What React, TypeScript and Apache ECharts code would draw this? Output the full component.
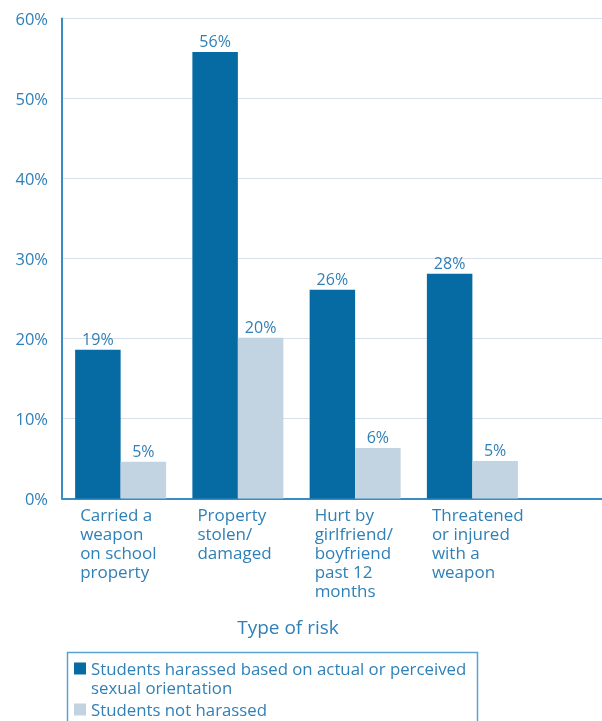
import React, { useEffect, useRef } from "react";
import * as echarts from "echarts";

const categories = [
  "Carried a\nweapon\non school\nproperty",
  "Property\nstolen/\ndamaged",
  "Hurt by\ngirlfriend/\nboyfriend\npast 12\nmonths",
  "Threatened\nor injured\nwith a\nweapon",
];
const harassed = [18.6, 55.8, 26.1, 28.1];
const notHarassed = [4.6, 20.1, 6.3, 4.7];
const seriesNames = [
  "Students harassed based on actual or perceived\nsexual orientation",
  "Students not harassed",
];
const yMin = 0;
const yMax = 60;
const yStep = 10;
const xTitle = "Type of risk";

const FONT = "'Open Sans', 'Noto Sans', sans-serif";
const TEXT = "#2f80b7";
const AXIS = "#3a8cc2";
const GRID = "#d7e0ea";
const DARK = "#066ba3";
const LIGHT = "#c2d3e1";

export default function App() {
  const ref = useRef<HTMLDivElement>(null);
  useEffect(() => {
    if (!ref.current) return;
    const chart = echarts.init(ref.current, undefined, { renderer: "svg" });
    const top = 18.5;
    const bottom = 222.5;
    chart.setOption({
      animation: false,
      textStyle: { fontFamily: FONT },
      grid: [
        { left: 62, right: 71, top, bottom },
        { left: 531, right: 0, top, bottom },
      ],
      xAxis: [
        {
          type: "category",
          gridIndex: 0,
          data: categories,
          axisLine: { show: true, lineStyle: { color: AXIS, width: 2 } },
          axisTick: { show: false },
          axisLabel: {
            interval: 0,
            align: "center",
            margin: 6,
            formatter: (v: string) =>
              v
                .split("\n")
                .map((l) => `{a|${l}}`)
                .join("\n"),
            rich: {
              a: {
                width: 81,
                align: "left",
                fontSize: 17,
                lineHeight: 19,
                color: TEXT,
                fontFamily: FONT,
              },
            },
          },
        },
        {
          type: "category",
          gridIndex: 1,
          data: [""],
          axisLine: { show: true, lineStyle: { color: AXIS, width: 2 } },
          axisTick: { show: false },
          axisLabel: { show: false },
        },
      ],
      yAxis: [
        {
          type: "value",
          gridIndex: 0,
          min: yMin,
          max: yMax,
          interval: yStep,
          axisLine: { show: true, lineStyle: { color: AXIS, width: 2 } },
          axisTick: { show: false },
          splitLine: { show: true, lineStyle: { color: GRID, width: 1 } },
          axisLabel: {
            formatter: "{value}%",
            color: TEXT,
            fontSize: 16.5,
            fontFamily: FONT,
            margin: 14,
          },
        },
        {
          type: "value",
          gridIndex: 1,
          min: yMin,
          max: yMax,
          interval: yStep,
          axisLine: { show: false },
          axisTick: { show: false },
          axisLabel: { show: false },
          splitLine: { show: true, lineStyle: { color: GRID, width: 1 } },
        },
      ],
      legend: {
        left: 74,
        top: 640,
        orient: "vertical",
        padding: 0,
        itemWidth: 12,
        itemHeight: 12,
        itemGap: 3,
        icon: "rect",
        selectedMode: false,
        formatter: (name: string) =>
          name.indexOf("\n") >= 0 ? " \n" + name : name,
        textStyle: {
          color: TEXT,
          fontSize: 16.8,
          lineHeight: 19,
          fontFamily: FONT,
        },
        data: seriesNames,
      },
      graphic: [
        {
          type: "text",
          x: 288,
          y: 627,
          style: {
            text: xTitle,
            align: "center",
            verticalAlign: "middle",
            fill: TEXT,
            font: `19px ${FONT}`,
          },
        },
        {
          type: "rect",
          shape: { x: 67.5, y: 652.5, width: 410, height: 90 },
          style: { fill: "none", stroke: "#5aa3cf", lineWidth: 1.5 },
          silent: true,
        },
      ],
      series: [
        {
          name: seriesNames[0],
          type: "bar",
          xAxisIndex: 0,
          yAxisIndex: 0,
          data: harassed,
          barGap: "0%",
          barCategoryGap: "22.4%",
          itemStyle: { color: DARK },
          label: {
            show: true,
            position: "top",
            distance: 3,
            color: TEXT,
            fontSize: 16,
            fontFamily: FONT,
            formatter: (p: any) => `${Math.round(p.value)}%`,
          },
        },
        {
          name: seriesNames[1],
          type: "bar",
          xAxisIndex: 0,
          yAxisIndex: 0,
          data: notHarassed,
          barGap: "0%",
          barCategoryGap: "22.4%",
          itemStyle: { color: LIGHT },
          label: {
            show: true,
            position: "top",
            distance: 3,
            color: TEXT,
            fontSize: 16,
            fontFamily: FONT,
            formatter: (p: any) => `${Math.round(p.value)}%`,
          },
        },
      ],
    });
    return () => chart.dispose();
  }, []);
  return (
    <div
      ref={ref}
      style={{ position: "fixed", left: 0, top: 0, width: 602, height: 721 }}
    />
  );
}
